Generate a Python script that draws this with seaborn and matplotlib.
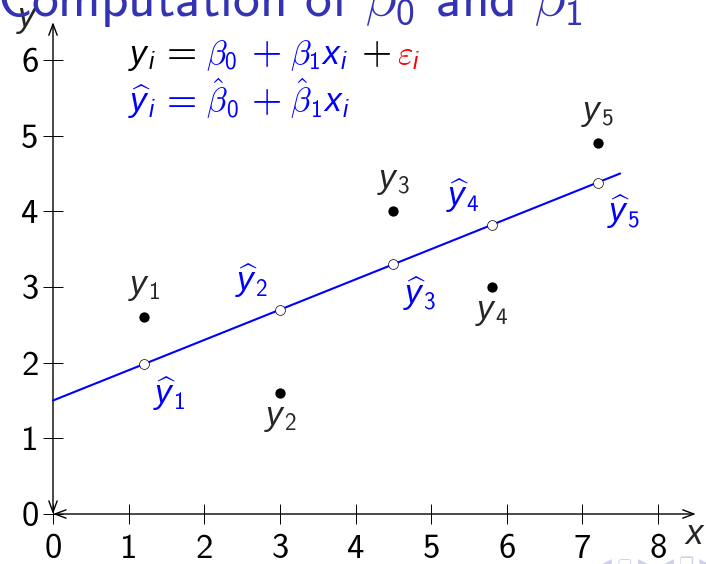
import matplotlib
matplotlib.use("Agg")
import matplotlib.pyplot as plt
import seaborn as sns
import pandas as pd

# Observed sample
x_obs = [1.2, 3.0, 4.5, 5.8, 7.2]
y_obs = [2.6, 1.6, 4.0, 3.0, 4.9]
# Fitted values on the regression line
y_fit = [1.98, 2.70, 3.30, 3.82, 4.38]
# Regression line end points
line_x = [0.0, 7.5]
line_y = [1.5, 4.5]
# Axes
x_ticks = [0, 1, 2, 3, 4, 5, 6, 7, 8]
y_ticks = [0, 1, 2, 3, 4, 5, 6]
x_axis_end = 8.5
y_axis_end = 6.5
# Where each point label sits relative to its point
obs_side = ["above", "below", "above", "below", "above"]
fit_side = ["below right", "above left", "below right", "above left", "below right"]

BLUE = "#0000ff"
RED = "#ff0000"
TITLE_BLUE = "#3333b3"

sns.set_theme(style="ticks")
plt.rcParams.update({
    "font.family": ["cmss10", "DejaVu Sans"],
    "axes.unicode_minus": False,
    "mathtext.fontset": "custom",
    "mathtext.rm": "cmss10",
    "mathtext.it": "cmmi10",
    "mathtext.sf": "Liberation Sans:italic",
    "mathtext.fallback": "cm",
})

W, H = 706, 564
fig = plt.figure(figsize=(W / 100, H / 100), dpi=100)
ax = fig.add_axes([0, 0, 1, 1])
ax.set_facecolor("white")

# pixel geometry of the plotting area
X0, Y0, PX, PY = 53, 514, 75.625, 75.67
ax.set_xlim(-X0 / PX, (W - X0) / PX)
ax.set_ylim(-(H - Y0) / PY, Y0 / PY)

for s in ["top", "right", "left", "bottom"]:
    ax.spines[s].set_visible(False)
ax.spines["left"].set_position(("data", 0))
ax.spines["bottom"].set_position(("data", 0))
ax.set_xticks(x_ticks)
ax.set_yticks(y_ticks)
ax.tick_params(axis="both", direction="inout", length=15, width=0.7,
               colors="black", labelsize=25, bottom=True, left=True)
ax.tick_params(axis="x", pad=7)
ax.tick_params(axis="y", pad=3)

arrow = dict(arrowstyle="<->,head_length=0.4,head_width=0.15", lw=1.0,
             color="black", shrinkA=0, shrinkB=0, mutation_scale=20)
ax.annotate("", xy=(x_axis_end, 0), xytext=(0, 0), arrowprops=arrow)
ax.annotate("", xy=(0, y_axis_end), xytext=(0, 0), arrowprops=arrow)

ax.text(8.49, -0.28, r"$\mathsf{x}$", fontsize=25, ha="center", va="center")
ax.text(-0.34, 6.52, r"$\mathsf{y}$", fontsize=25, ha="center", va="center", zorder=10)

# regression line and points
df = pd.DataFrame({"x": x_obs, "y": y_obs, "yhat": y_fit})
sns.lineplot(x=line_x, y=line_y, ax=ax, color=BLUE, lw=1.5, zorder=3)
sns.scatterplot(data=df, x="x", y="y", ax=ax, color="black", s=55,
                edgecolor="black", linewidth=0, zorder=5)
sns.scatterplot(data=df, x="x", y="yhat", ax=ax, color="white", s=50,
                edgecolor="black", linewidth=0.5, zorder=5)
ax.set_xlabel("")
ax.set_ylabel("")

placement = {
    "above": ((0, 10), "center", "bottom"),
    "below": ((0, -9), "center", "top"),
    "below right": ((7, -7), "left", "top"),
    "above left": ((-9, 7), "right", "bottom"),
}
for i, (xv, yv, fv) in enumerate(zip(x_obs, y_obs, y_fit), start=1):
    off, ha, va = placement[obs_side[i - 1]]
    ax.annotate(rf"$\mathsf{{y}}_{i}$", (xv, yv), xytext=off,
                textcoords="offset points", ha=ha, va=va, fontsize=24)
    off, ha, va = placement[fit_side[i - 1]]
    ax.annotate(rf"$\widehat{{\mathsf{{y}}}}_{i}$", (xv, fv), xytext=off,
                textcoords="offset points", ha=ha, va=va, fontsize=24,
                color=BLUE)

# model equations
def fig_px(x, y):
    return x / W, 1 - y / H

line1 = [
    (128, r"$\mathsf{y}_\mathsf{i}$", "black"),
    (167, "=", "black"),
    (206, r"$\beta_0$", BLUE),
    (252, "+", BLUE),
    (290, r"$\beta_1\mathsf{x}_\mathsf{i}$", BLUE),
    (362, "+", "black"),
    (397, r"$\varepsilon_\mathsf{i}$", RED),
]
line2 = [
    (128, r"$\widehat{\mathsf{y}}_\mathsf{i}$", BLUE),
    (167, "=", BLUE),
    (206, r"$\hat{\beta}_0$", BLUE),
    (252, "+", BLUE),
    (290, r"$\hat{\beta}_1\mathsf{x}_\mathsf{i}$", BLUE),
]
for base, pieces in ((64, line1), (112, line2)):
    for xp, txt, col in pieces:
        size = 28 if txt in ("=", "+") else 24
        fig.text(*fig_px(xp, base), txt, fontsize=size, color=col, va="baseline")

# frame title
fig.text(*fig_px(-3, 16), r"Computation of $\beta_0$ and $\beta_1$",
         fontsize=38.5, color=TITLE_BLUE, va="baseline", zorder=1)

# navigation symbols
fig.text(*fig_px(599, 556), "\u25c0 \u25a2 \u25b6  \u25c0 \u2750 \u25b6",
         fontsize=12, color="#d0d0ea", va="top", family="DejaVu Sans")

fig.savefig("out.png", dpi=100)
